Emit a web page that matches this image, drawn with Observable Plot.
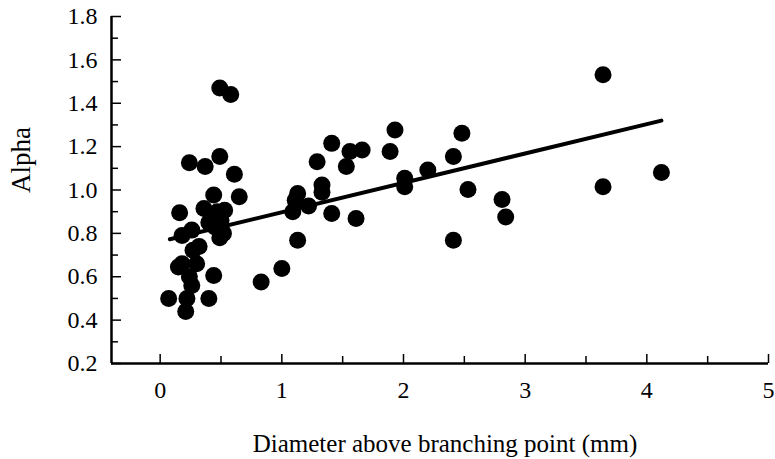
<!DOCTYPE html>
<html><head><meta charset="utf-8">
<script src="https://cdn.jsdelivr.net/npm/d3@7"></script>
<script src="https://cdn.jsdelivr.net/npm/@observablehq/plot@0.6"></script>
<style>body{margin:0;background:#fff} svg{display:block}</style>
</head><body><div id="chart"></div>
<script>
// Diameter above branching point (mm)
const diameter = [
  0.49, 0.58, 0.24, 0.37, 0.49, 0.61, 0.65, 0.44, 0.36, 0.16,
  0.53, 0.42, 0.50, 0.45, 0.52, 0.49, 0.26, 0.18, 0.32, 0.27,
  0.18, 0.15, 0.30, 0.24, 0.44, 0.26, 0.07, 0.22, 0.40, 0.21,
  0.40, 0.47,
  0.83, 1.00, 1.13, 1.09, 1.11, 1.13, 1.22, 1.33, 1.33, 1.29,
  1.41, 1.41, 1.53, 1.56, 1.66, 1.61, 1.93, 1.89, 2.01, 2.01,
  2.20, 2.41, 2.48, 2.53, 2.41, 2.81, 2.84, 3.64, 3.64, 4.12
];
// Alpha
const alpha = [
  1.47, 1.44, 1.126, 1.108, 1.154, 1.073, 0.969, 0.977, 0.915, 0.895,
  0.907, 0.87, 0.86, 0.83, 0.80, 0.78, 0.815, 0.79, 0.74, 0.722,
  0.66, 0.645, 0.66, 0.60, 0.606, 0.56, 0.50, 0.50, 0.50, 0.44,
  0.85, 0.90,
  0.576, 0.638, 0.768, 0.90, 0.953, 0.984, 0.926, 1.023, 0.99, 1.13,
  1.215, 0.892, 1.108, 1.177, 1.184, 0.869, 1.277, 1.177, 1.054, 1.015,
  1.092, 1.154, 1.262, 1.002, 0.768, 0.956, 0.876, 1.531, 1.015, 1.081
];
// Fitted line end points
const fitX = [0.08, 4.12];
const fitY = [0.773, 1.32];

const xTicks = [0, 1, 2, 3, 4, 5];
const xMinor = [0.5, 1.5, 2.5, 3.5, 4.5];
const yTicks = [0.2, 0.4, 0.6, 0.8, 1.0, 1.2, 1.4, 1.6, 1.8];
const yMinor = [0.3, 0.5, 0.7, 0.9, 1.1, 1.3, 1.5, 1.7];
const xDomain = [-0.4, 5];
const yDomain = [0.2, 1.8];
const xTitle = "Diameter above branching point (mm)";
const yTitle = "Alpha";

const serif = "Liberation Serif";
const points = diameter.map((d, i) => ({d, a: alpha[i]}));
const fit = fitX.map((x, i) => ({x, y: fitY[i]}));
const blank = () => "";

const plot = Plot.plot({
  width: 775, height: 459,
  marginLeft: 111, marginRight: 7, marginTop: 16, marginBottom: 96,
  style: {fontFamily: serif, fontSize: "24px", color: "#000", background: "#fff"},
  x: {domain: xDomain},
  y: {domain: yDomain},
  marks: [
    Plot.axisY(yTicks, {tickSize: -10, tickFormat: blank, label: null, strokeWidth: 1.5}),
    Plot.axisY(yMinor, {tickSize: -7, tickFormat: blank, label: null, strokeWidth: 1.5}),
    Plot.axisX(xTicks, {tickSize: -9, tickFormat: blank, label: null, strokeWidth: 1.5}),
    Plot.axisX(xMinor, {tickSize: -7, tickFormat: blank, label: null, strokeWidth: 1.5}),
    Plot.text(yTicks, {y: d => d, text: d => d.toFixed(1), frameAnchor: "left", textAnchor: "end", lineAnchor: "middle", dx: -14, fontSize: 24, fontFamily: serif}),
    Plot.text(xTicks, {x: d => d, text: d => String(d), frameAnchor: "bottom", textAnchor: "middle", lineAnchor: "middle", dy: 27, fontSize: 24, fontFamily: serif}),
    Plot.ruleX([xDomain[0]], {strokeWidth: 2.5}),
    Plot.ruleY([yDomain[0]], {strokeWidth: 2.5}),
    Plot.line(fit, {x: "x", y: "y", strokeWidth: 4, stroke: "#000"}),
    Plot.dot(points, {x: "d", y: "a", r: 8.5, fill: "#000"}),
    Plot.text([xTitle], {frameAnchor: "bottom", lineAnchor: "middle", textAnchor: "middle", dy: 80, dx: 5, fontSize: 25, fontFamily: serif}),
    Plot.text([yTitle], {frameAnchor: "left", lineAnchor: "middle", textAnchor: "middle", rotate: -90, dx: -90, dy: -30, fontSize: 27, fontFamily: serif})
  ]
});
document.getElementById("chart").appendChild(plot);
</script>
</body></html>
